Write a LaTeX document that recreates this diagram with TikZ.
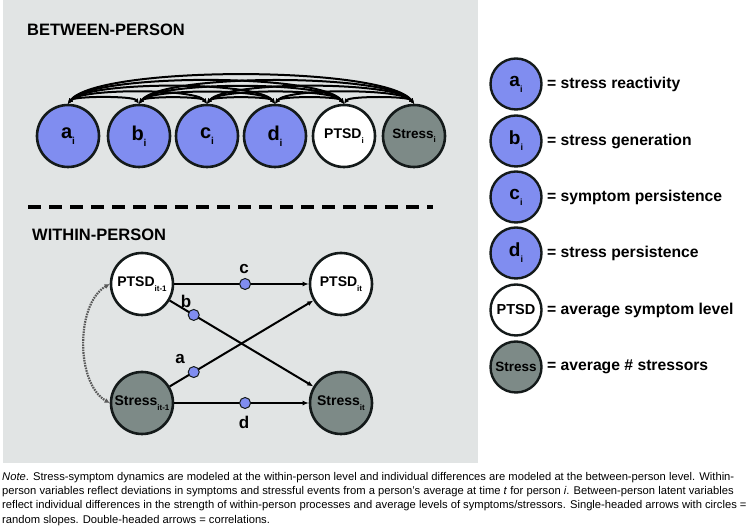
\documentclass[tikz,border=0pt]{standalone}
\usepackage{fontspec}
\setmainfont{Liberation Sans}
\usetikzlibrary{arrows.meta,calc}
\definecolor{panel}{RGB}{225,228,228}
\definecolor{nodeblue}{RGB}{128,141,240}
\definecolor{nodegray}{RGB}{125,138,135}
\definecolor{edge}{RGB}{20,26,26}
\newcommand\mysub[2][8]{\raisebox{-0.32em}{\fontsize{#1}{#1}\selectfont #2}}
\tikzset{
  bignode/.style={circle, draw=edge, line width=2.6pt, minimum size=62pt, inner sep=0pt,
    font=\bfseries\fontsize{20}{20}\selectfont},
  legnode/.style={circle, draw=edge, line width=2.4pt, minimum size=51pt, inner sep=0pt,
    font=\bfseries\fontsize{19}{19}\selectfont},
  fillblue/.style={fill=nodeblue},
  fillwhite/.style={fill=white},
  fillgray/.style={fill=nodegray},
  midfont/.style={font=\bfseries\fontsize{14}{14}\selectfont},
  smfont/.style={font=\bfseries\fontsize{13.5}{13.5}\selectfont},
  corr/.style={line width=2pt, draw=black, {Latex[length=5pt,width=5pt]}-{Latex[length=5pt,width=5pt]}},
  effect/.style={line width=2pt, draw=black, -{Latex[length=6pt,width=5pt]}},
  dot/.style={circle, draw=edge, fill=nodeblue, line width=1pt, minimum size=11pt, inner sep=0pt},
  lab/.style={font=\bfseries\fontsize{17}{17}\selectfont, inner sep=0pt},
  title/.style={font=\bfseries\fontsize{16.5}{16.5}\selectfont, inner sep=0pt, anchor=west},
  legtext/.style={font=\bfseries\fontsize{15.7}{15.7}\selectfont, inner sep=0pt, anchor=west},
  corrdot/.style={line width=2.2pt, draw=gray!70!black, dash pattern=on 1.6pt off 1pt,
    {Latex[length=5pt,width=5pt]}-{Latex[length=5pt,width=5pt]}},
}
\begin{document}
\begin{tikzpicture}[x=1pt,y=1pt]
\useasboundingbox (0,0) rectangle (752,529);
\fill[panel] (3,66) rectangle (478,529);

% titles
\node[title] (tb) at (27,499) {BETWEEN-PERSON};
\node[title] (tw) at (32,294) {WITHIN-PERSON};
\draw[line width=3.5pt, dash pattern=on 13pt off 8pt] (28,322) -- (433,322);

% between-person nodes
\node[bignode,fillblue] (bA) at (68,393) {a\mysub[10]{i}};
\node[bignode,fillblue] (bB) at (139,393) {b\mysub[10]{i}};
\node[bignode,fillblue] (bC) at (207,393) {c\mysub[10]{i}};
\node[bignode,fillblue] (bD) at (275,393) {d\mysub[10]{i}};
\node[bignode,fillwhite,midfont] (bP) at (344,393) {PTSD\mysub[8]{i}};
\node[bignode,fillgray,smfont] (bS) at (414,393) {Stress\mysub[8]{i}};

\foreach \i/\j in {bA/bB,bA/bC,bA/bD,bA/bP,bA/bS,bB/bC,bB/bD,bB/bP,bB/bS,bC/bD,bC/bP,bC/bS,bD/bP,bD/bS,bP/bS}
  \draw[corr] (\i.north) to[out=52,in=128,looseness=0.36] (\j.north);

% within-person nodes
\node[bignode,fillwhite,midfont] (wP1) at (142,245) {PTSD\mysub[8]{it-1}};
\node[bignode,fillwhite,midfont] (wP2) at (341,245) {PTSD\mysub[8]{it}};
\node[bignode,fillgray,midfont] (wS1) at (142,126) {Stress\mysub[8]{it-1}};
\node[bignode,fillgray,midfont] (wS2) at (341,126) {Stress\mysub[8]{it}};

\draw[effect] (wP1) -- (wP2);
\draw[effect] (wS1) -- (wS2);
\draw[effect] (wP1) -- (wS2);
\draw[effect] (wS1) -- (wP2);
\draw[corrdot] (wP1.west) to[out=210,in=150,looseness=0.85] (wS1.west);

\node[dot] (dc) at ($(wP1)!0.518!(wP2)$) {};
\node[dot] (dd) at ($(wS1)!0.518!(wS2)$) {};
\node[dot] (db) at ($(wP1)!0.26!(wS2)$) {};
\node[dot] (da) at ($(wS1)!0.26!(wP2)$) {};
\node[lab] (lc) at (244,260) {c};
\node[lab] (lb) at (186,228) {b};
\node[lab] (la) at (180,170) {a};
\node[lab] (ld) at (244,107) {d};

% legend
\node[legnode,fillblue] (gA) at (516,445) {a\mysub[9]{i}};
\node[legnode,fillblue] (gB) at (516,388) {b\mysub[9]{i}};
\node[legnode,fillblue] (gC) at (516,332) {c\mysub[9]{i}};
\node[legnode,fillblue] (gD) at (516,276) {d\mysub[9]{i}};
\node[legnode,fillwhite,font=\bfseries\fontsize{14.5}{14.5}\selectfont] (gP) at (516,219) {PTSD};
\node[legnode,fillgray,font=\bfseries\fontsize{13.5}{13.5}\selectfont] (gS) at (516,162) {Stress};
\node[legtext] (tA) at (547,445) {= stress reactivity};
\node[legtext] (tB) at (547,388) {= stress generation};
\node[legtext] (tC) at (547,332) {= symptom persistence};
\node[legtext] (tD) at (547,276) {= stress persistence};
\node[legtext] (tP) at (547,219) {= average symptom level};
\node[legtext] (tS) at (547,162) {= average \# stressors};

% note
\node[anchor=north west, inner sep=0pt, align=left, font=\fontsize{11.2}{14.3}\selectfont] (note) at (2,57)
{\textit{Note}. Stress-symptom dynamics are modeled at the within-person level and individual differences are modeled at the between-person level. Within-\\
person variables reflect deviations in symptoms and stressful events from a person's average at time \textit{t} for person \textit{i}. Between-person latent variables\\
reflect individual differences in the strength of within-person processes and average levels of symptoms/stressors. Single-headed arrows with circles =\\
random slopes. Double-headed arrows = correlations.};
\end{tikzpicture}
\end{document}
